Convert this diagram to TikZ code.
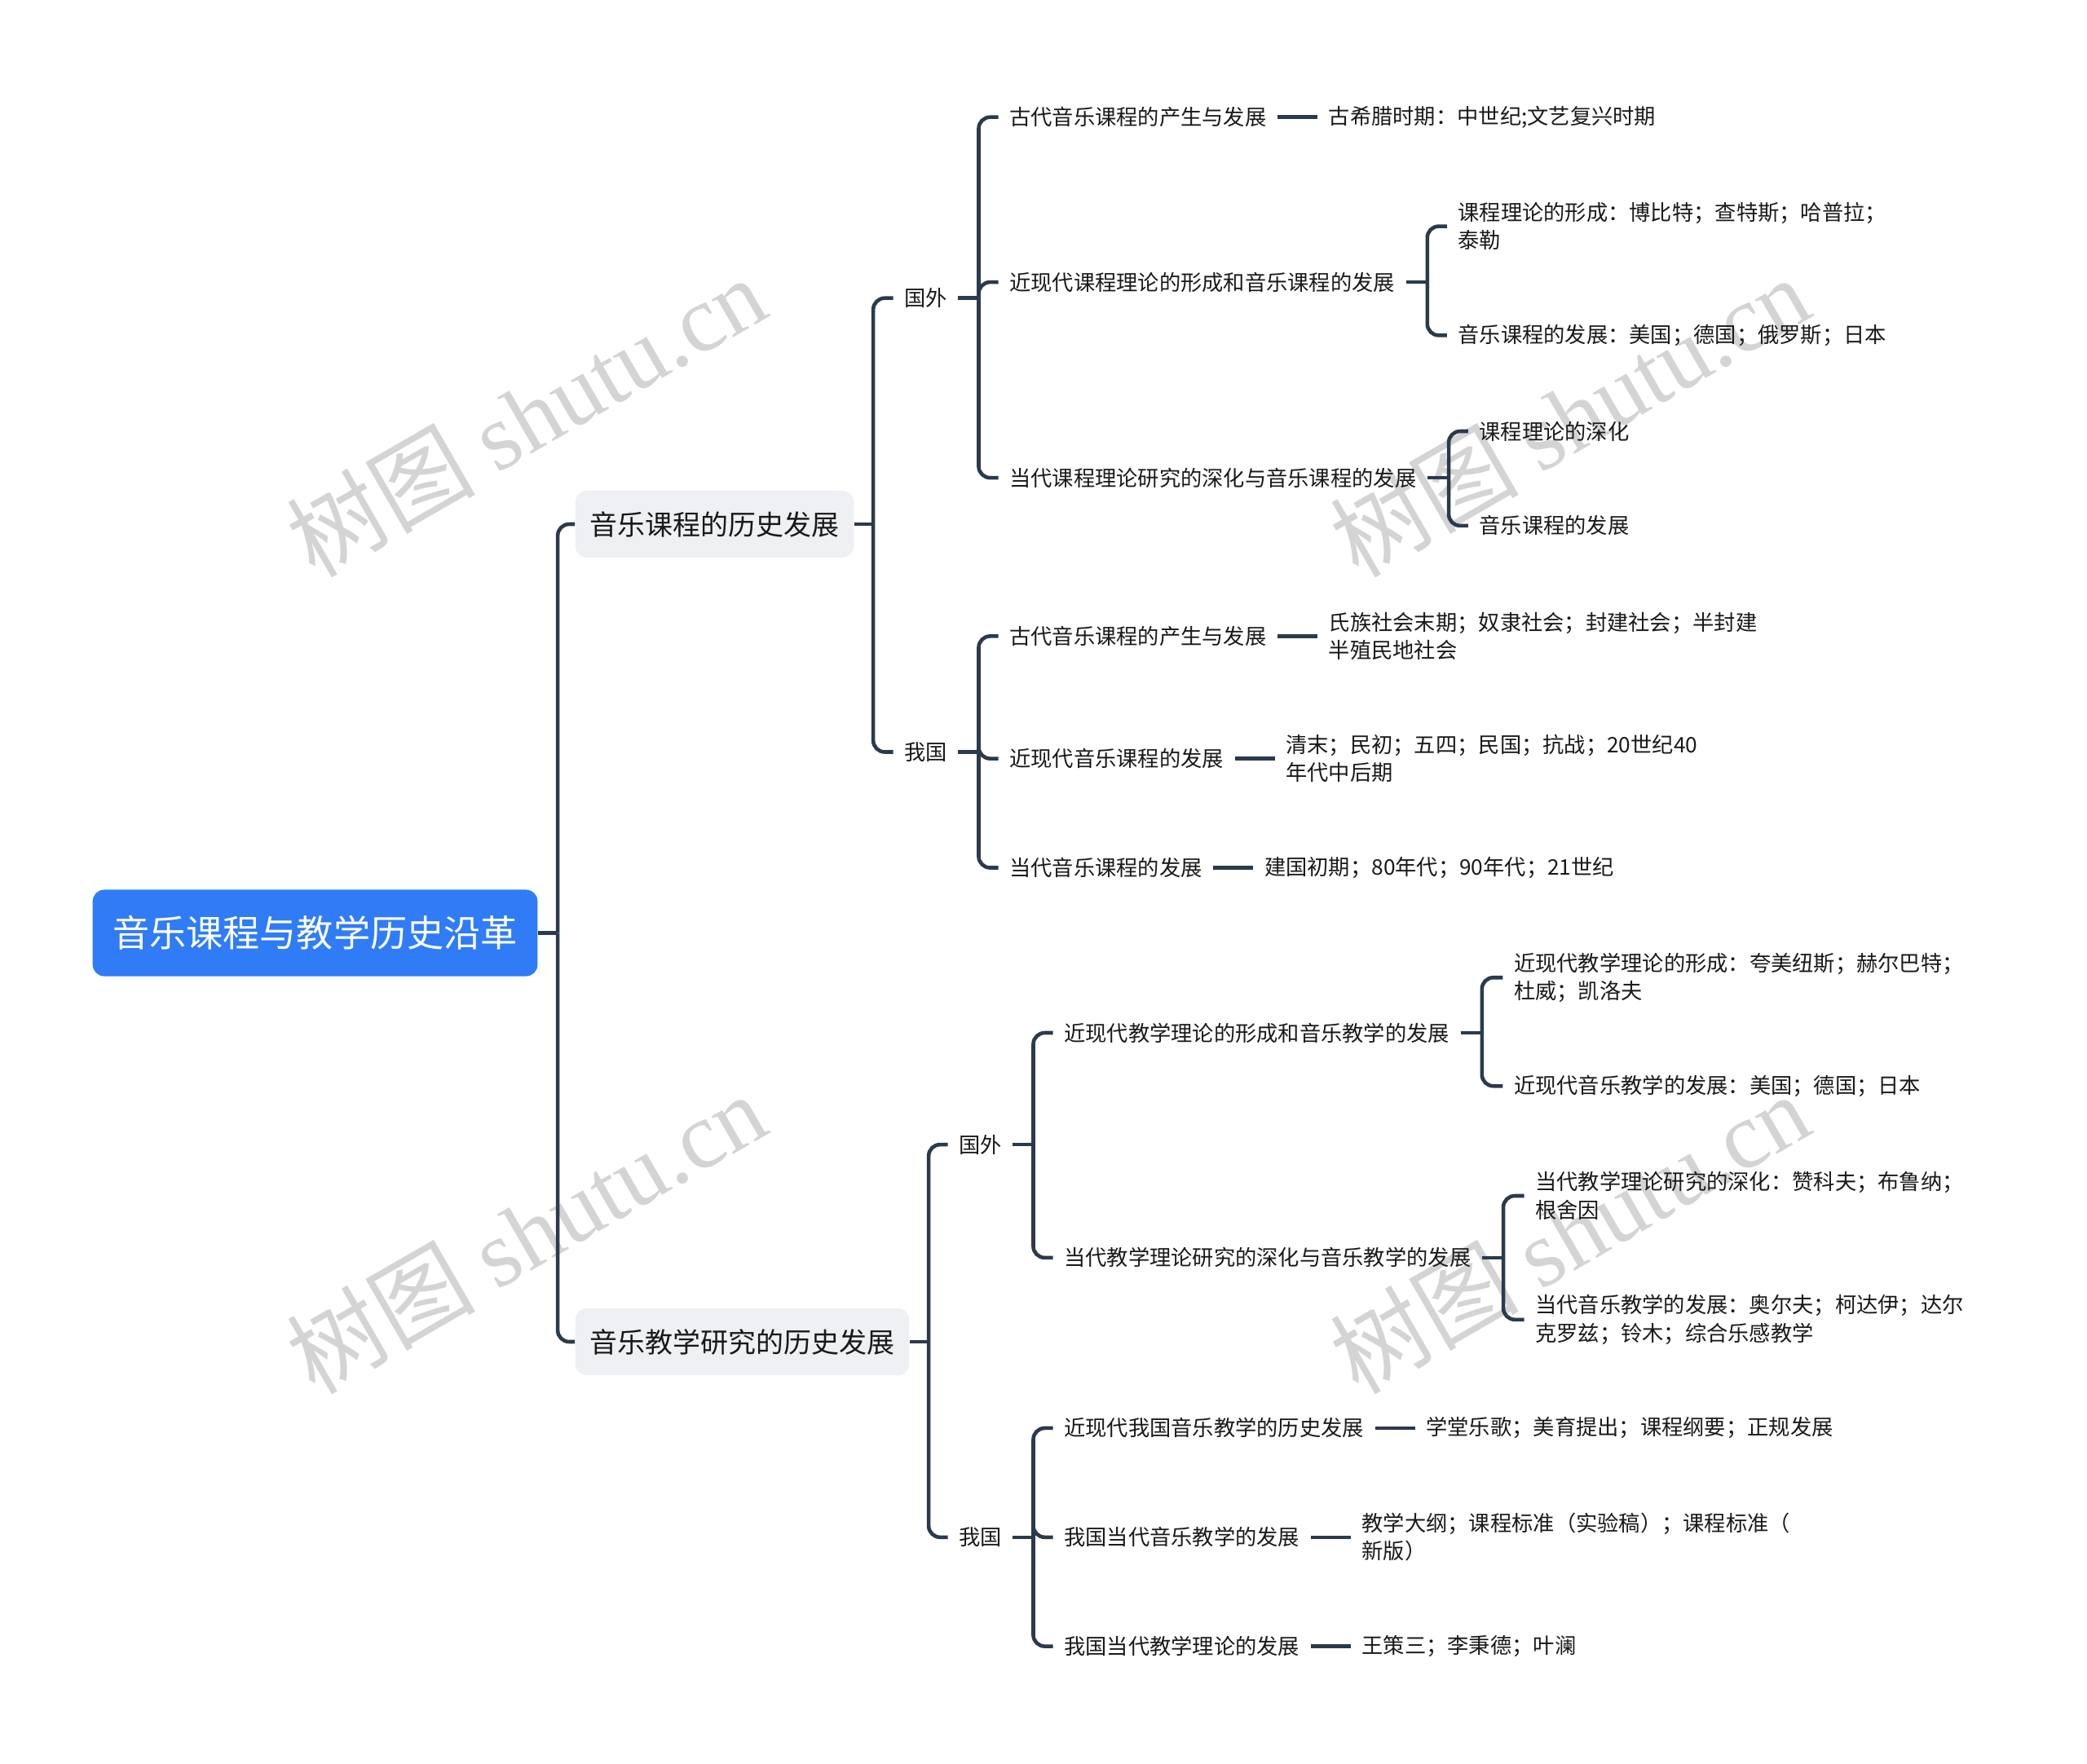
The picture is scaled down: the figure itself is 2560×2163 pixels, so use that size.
\documentclass[tikz,border=0pt]{standalone}
\usepackage{fontspec}
\setmainfont{Noto Sans CJK SC}
\newfontfamily\wmfont{Liberation Serif}
\usetikzlibrary{positioning}

\definecolor{rootblue}{HTML}{2F7CF6}
\definecolor{boxgray}{HTML}{EEF0F3}
\definecolor{linkcol}{HTML}{2B3A4C}
\definecolor{wmgray}{HTML}{D4D4D4}

\tikzset{
  rootbox/.style={fill=rootblue, text=white, rounded corners=4pt, inner xsep=0.245cm,
    minimum height=1.06cm, anchor=west, font=\fontsize{12.84}{15}\selectfont},
  mainbox/.style={fill=boxgray, text=black!90, rounded corners=4pt, inner xsep=0.18cm,
    minimum height=0.82cm, anchor=west, font=\fontsize{9.66}{12}\selectfont},
  item/.style={inner xsep=0.13cm, inner ysep=0.05cm, anchor=west, align=left,
    text=black!90, font=\fontsize{7.47}{9.76}\selectfont},
  leaf/.style={item, right=0.49cm of #1},
  link/.style={draw=linkcol, line width=1.3pt, rounded corners=4pt},
  wm/.style={text=wmgray, rotate=30, font=\fontsize{33}{35}\selectfont}
}

\begin{document}
\begin{tikzpicture}[x=0.01cm, y=-0.01cm]
    \useasboundingbox (0,0) rectangle (2560,2163);

    % Watermarks
    \node[wm] (wm1) at (645,510) {树图 {\wmfont shutu.cn}};
    \node[wm] (wm2) at (645,1512) {树图 {\wmfont shutu.cn}};
    \node[wm] (wm3) at (1925,510) {树图 {\wmfont shutu.cn}};
    \node[wm] (wm4) at (1925,1512) {树图 {\wmfont shutu.cn}};

    % Root and main branches
    \node[rootbox] (root) at (113,1144.5) {音乐课程与教学历史沿革};
    \node[mainbox] (hist) at (705,643) {音乐课程的历史发展};
    \node[mainbox] (teach) at (705,1646) {音乐教学研究的历史发展};

    % Curriculum: abroad / China
    \node[item] (histF) at (1095.5,365.7) {国外};
    \node[item] (histC) at (1095.5,922.5) {我国};

    \node[item] (hF1) at (1224.5,143.7) {古代音乐课程的产生与发展};
    \node[leaf=hF1] (hF1a) {古希腊时期：中世纪;文艺复兴时期};
    \node[item] (hF2) at (1224.5,346.1) {近现代课程理论的形成和音乐课程的发展};
    \node[item] (hF2a) at (1774.8,277.6) {课程理论的形成：博比特；查特斯；哈普拉；\\泰勒};
    \node[item] (hF2b) at (1774.8,411.4) {音乐课程的发展：美国；德国；俄罗斯；日本};
    \node[item] (hF3) at (1224.5,586.1) {当代课程理论研究的深化与音乐课程的发展};
    \node[item] (hF3a) at (1800.9,529) {课程理论的深化};
    \node[item] (hF3b) at (1800.9,644.9) {音乐课程的发展};

    \node[item] (hC1) at (1224.5,780.4) {古代音乐课程的产生与发展};
    \node[leaf=hC1] (hC1a) {氏族社会末期；奴隶社会；封建社会；半封建\\半殖民地社会};
    \node[item] (hC2) at (1224.5,930.6) {近现代音乐课程的发展};
    \node[leaf=hC2] (hC2a) {清末；民初；五四；民国；抗战；20世纪40\\年代中后期};
    \node[item] (hC3) at (1224.5,1064.5) {当代音乐课程的发展};
    \node[leaf=hC3] (hC3a) {建国初期；80年代；90年代；21世纪};

    % Teaching: abroad / China
    \node[item] (teachF) at (1162.5,1404.1) {国外};
    \node[item] (teachC) at (1162.5,1885.8) {我国};

    \node[item] (tF1) at (1291.5,1267) {近现代教学理论的形成和音乐教学的发展};
    \node[item] (tF1a) at (1843.4,1199.2) {近现代教学理论的形成：夸美纽斯；赫尔巴特；\\杜威；凯洛夫};
    \node[item] (tF1b) at (1843.4,1332.3) {近现代音乐教学的发展：美国；德国；日本};
    \node[item] (tF2) at (1291.5,1542.9) {当代教学理论研究的深化与音乐教学的发展};
    \node[item] (tF2a) at (1869.5,1467) {当代教学理论研究的深化：赞科夫；布鲁纳；\\根舍因};
    \node[item] (tF2b) at (1869.5,1618.8) {当代音乐教学的发展：奥尔夫；柯达伊；达尔\\克罗兹；铃木；综合乐感教学};

    \node[item] (tC1) at (1291.5,1751.9) {近现代我国音乐教学的历史发展};
    \node[leaf=tC1] (tC1a) {学堂乐歌；美育提出；课程纲要；正规发展};
    \node[item] (tC2) at (1291.5,1885.8) {我国当代音乐教学的发展};
    \node[leaf=tC2] (tC2a) {教学大纲；课程标准（实验稿）；课程标准（\\新版）};
    \node[item] (tC3) at (1291.5,2019.6) {我国当代教学理论的发展};
    \node[leaf=tC3] (tC3a) {王策三；李秉德；叶澜};

    % Brackets
    \draw[link] (root.east) -- ++(24,0) coordinate (root-t);
    \draw[link] (root-t) |- (hist.west);
    \draw[link] (root-t) |- (teach.west);

    \draw[link] (hist.east) -- ++(23,0) coordinate (hist-t);
    \draw[link] (hist-t) |- (histF.west);
    \draw[link] (hist-t) |- (histC.west);

    \draw[link] (histF.east) -- ++(25,0) coordinate (histF-t);
    \draw[link] (histF-t) |- (hF1.west);
    \draw[link] (histF-t) |- (hF2.west);
    \draw[link] (histF-t) |- (hF3.west);

    \draw[link] (hF2.east) -- ++(26,0) coordinate (hF2-t);
    \draw[link] (hF2-t) |- (hF2a.west);
    \draw[link] (hF2-t) |- (hF2b.west);

    \draw[link] (hF3.east) -- ++(26,0) coordinate (hF3-t);
    \draw[link] (hF3-t) |- (hF3a.west);
    \draw[link] (hF3-t) |- (hF3b.west);

    \draw[link] (histC.east) -- ++(25,0) coordinate (histC-t);
    \draw[link] (histC-t) |- (hC1.west);
    \draw[link] (histC-t) |- (hC2.west);
    \draw[link] (histC-t) |- (hC3.west);

    \draw[link] (teach.east) -- ++(23,0) coordinate (teach-t);
    \draw[link] (teach-t) |- (teachF.west);
    \draw[link] (teach-t) |- (teachC.west);

    \draw[link] (teachF.east) -- ++(25,0) coordinate (teachF-t);
    \draw[link] (teachF-t) |- (tF1.west);
    \draw[link] (teachF-t) |- (tF2.west);

    \draw[link] (tF1.east) -- ++(26,0) coordinate (tF1-t);
    \draw[link] (tF1-t) |- (tF1a.west);
    \draw[link] (tF1-t) |- (tF1b.west);

    \draw[link] (tF2.east) -- ++(26,0) coordinate (tF2-t);
    \draw[link] (tF2-t) |- (tF2a.west);
    \draw[link] (tF2-t) |- (tF2b.west);

    \draw[link] (teachC.east) -- ++(25,0) coordinate (teachC-t);
    \draw[link] (teachC-t) |- (tC1.west);
    \draw[link] (teachC-t) |- (tC2.west);
    \draw[link] (teachC-t) |- (tC3.west);

    % Leaf dashes
    \draw[link] (hF1.east) -- (hF1a.west);
    \draw[link] (hC1.east) -- (hC1a.west);
    \draw[link] (hC2.east) -- (hC2a.west);
    \draw[link] (hC3.east) -- (hC3a.west);
    \draw[link] (tC1.east) -- (tC1a.west);
    \draw[link] (tC2.east) -- (tC2a.west);
    \draw[link] (tC3.east) -- (tC3a.west);
\end{tikzpicture}
\end{document}
